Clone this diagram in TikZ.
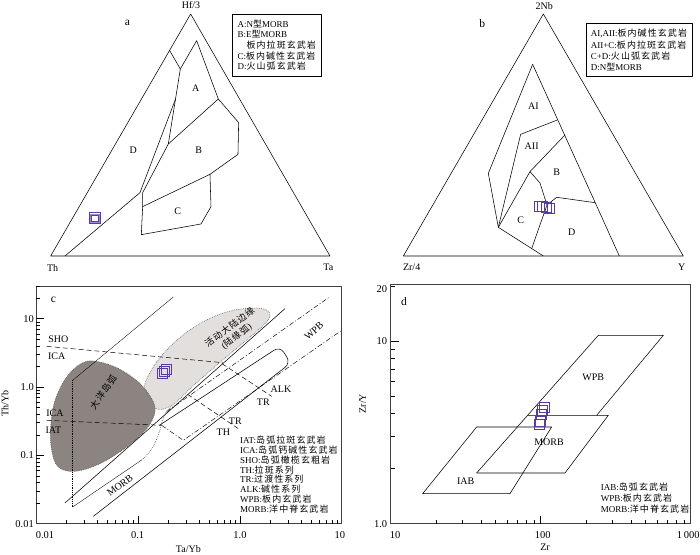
\documentclass[tikz,border=0pt]{standalone}
\usepackage{fontspec}
\setmainfont{Liberation Serif}
\newfontfamily\cjk[LetterSpace=12]{Noto Sans CJK SC}
\newcommand{\hz}[1]{{\cjk #1}}
\definecolor{smp}{RGB}{88,60,160}
\definecolor{arcdark}{RGB}{140,132,128}
\definecolor{arclight}{RGB}{227,223,221}
\tikzset{
  fld/.style={line width=0.55pt, line join=round},
  thinln/.style={line width=0.35pt},
  tickln/.style={line width=0.45pt},
  smpbox/.style={draw=smp, line width=0.8pt},
  paneltag/.style={font=\fontsize{11.5}{12}\selectfont, inner sep=0pt},
  lab/.style={font=\fontsize{10}{11}\selectfont, inner sep=0pt},
  ticklab/.style={font=\fontsize{10.5}{11}\selectfont, inner sep=0pt},
  keytxt/.style={font=\fontsize{9}{10.7}\selectfont, align=left, inner sep=0pt, anchor=north west},
  bdash/.style={dash pattern=on 5pt off 3pt, line width=0.5pt},
  bdashdot/.style={dash pattern=on 5pt off 2pt on 1pt off 2pt, line width=0.45pt},
  bdot/.style={dash pattern=on 0.6pt off 1.2pt, line width=0.6pt},
}
\begin{document}
\begin{tikzpicture}[x=1pt,y=-1pt]
\path[use as bounding box, fill=white] (0,0) rectangle (700,554);

% a: Hf/3-Th-Ta
\begin{scope}[x=0.3333pt,y=-0.3333pt]
\draw[fld] (152,768) -- (572,42) -- (990,768) -- cycle;
\draw[fld] (508,150) -- (541,207);
\draw[fld] (541,207) -- (590,122) -- (655,297) -- (505,432) -- cycle;
\draw[fld] (527,296) -- (420,578) -- (195,768);
\draw[fld] (505,432) -- (428,578) -- (428,620) -- (424,704) -- (603,672) -- (633,620)
  -- (630,523) -- (714,463) -- (716,368) -- (655,297);
\draw[fld] (428,620) -- (630,523);
\node[lab] (aHf) at (573,15) {Hf/3};
\node[lab] (aTh) at (158,803) {Th};
\node[lab] (aTa) at (985,803) {Ta};
\node[paneltag] (aTag) at (382,68) {a};
\node[lab] (aA) at (587,266) {A};
\node[lab] (aB) at (596,450) {B};
\node[lab] (aC) at (533,633) {C};
\node[lab] (aD) at (400,452) {D};
\draw[fld] (696,42) rectangle (963,230);
\node[keytxt] (aKey) at (712,58) {A:N\hz{型}MORB\\B:E\hz{型}MORB\\\hspace*{9pt}\hz{板内拉斑玄武岩}\\C:\hz{板内碱性玄武岩}\\D:\hz{火山弧玄武岩}};
\end{scope}

% b: 2Nb-Zr/4-Y
\begin{scope}[shift={(350,0)},x=0.3333pt,y=-0.3333pt]
\draw[fld] (160,768) -- (580,42) -- (1000,768) -- cycle;
\draw[fld] (548,193) -- (808,768);
\draw[fld] (548,193) -- (415,520) -- (445,682) -- (580,768);
\draw[fld] (445,682) -- (512,403) -- (622,360);
\draw[fld] (645,405) -- (540,515) -- (445,682);
\draw[fld] (540,515) -- (570,549) -- (591,615) -- (545,746);
\draw[fld] (591,615) -- (620,592) -- (735,608);
\node[lab] (bNb) at (583,17) {2Nb};
\node[lab] (bZr) at (185,803) {Zr/4};
\node[lab] (bY) at (995,803) {Y};
\node[paneltag] (bTag) at (397,70) {b};
\node[lab] (bAI) at (550,320) {AI};
\node[lab] (bAII) at (545,440) {AII};
\node[lab] (bB) at (620,518) {B};
\node[lab] (bC) at (512,662) {C};
\node[lab] (bD) at (665,698) {D};
\draw[fld] (708,70) rectangle (1027,230);
\node[keytxt, font=\fontsize{9}{11.3}\selectfont] (bKey) at (722,87) {AI,AII:\hz{板内碱性玄武岩}\\AII+C:\hz{板内拉斑玄武岩}\\C+D:\hz{火山弧玄武岩}\\D:N\hz{型}MORB};
\end{scope}

% c: Th/Yb - Ta/Yb
\begin{scope}[shift={(0,277)},x=0.3333pt,y=-0.3333pt]
\draw[bdot, fill=arclight, draw=black!70] plot[smooth cycle, tension=0.6] coordinates {
  (435,320) (470,255) (530,190) (600,140) (670,108) (740,94) (795,97) (810,115)
  (795,140) (760,172) (700,222) (630,282) (570,335) (525,378) (485,397) (455,388) (437,360)};
\draw[bdot, fill=arcdark, draw=black!70] plot[smooth cycle, tension=0.6] coordinates {
  (280,252) (350,272) (415,315) (455,365) (465,405) (440,455) (380,510) (300,560)
  (225,583) (175,570) (155,520) (152,450) (165,370) (200,300) (240,262)};
\draw[thinln] (520,60) -- (218,310);
\draw[bdot, line width=0.45pt] (218,310) -- (218,690);
\draw[thinln] (218,690) -- (425,549);
\draw[bdot, line width=0.45pt] (425,549) .. controls (460,520) and (475,480) .. (485,440)
  .. controls (495,405) and (505,392) .. (520,385);
\draw[fld] (195,678) -- (855,95);
\draw[fld, rounded corners=7pt] (280,718) -- (872,258) -- (840,208) -- (478,445);
\draw[bdashdot] (500,404) -- (990,59);
\draw[bdashdot] (485,445) -- (550,490) -- (1025,160);
\draw[bdash] (140,208) -- (668,257);
\draw[bdash] (140,430) -- (485,445);
\draw[bdash] (666,260) -- (815,358);
\draw[bdash] (563,352) -- (718,457);
\draw[line width=0.7pt, black!75] (108,28) rectangle (1025,740);
\begin{scope}
\clip (108,28) rectangle (1025,740);
\foreach \k in {0,1,2,3}
  \foreach \m in {2,...,9}
    \draw[tickln] (108,{740-205*(\k+log10(\m))}) -- ++(12,0);
\foreach \k in {0,1,2}
  \foreach \m in {2,...,9}
    \draw[tickln] ({108+305.7*(\k+log10(\m))},740) -- ++(0,-12);
\end{scope}
\foreach \k in {1,2,3}
  \draw[tickln] (108,{740-205*\k}) -- ++(24,0);
\foreach \k in {1,2}
  \draw[tickln] ({108+305.7*\k},740) -- ++(0,-24);
\node[ticklab, anchor=east] (cY10) at (102,125) {10};
\node[ticklab, anchor=east] (cY1) at (102,330) {1.0};
\node[ticklab, anchor=east] (cY01) at (102,535) {0.1};
\node[ticklab, anchor=east] (cY001) at (102,740) {0.01};
\node[ticklab] (cX001) at (135,775) {0.01};
\node[ticklab] (cX01) at (413,775) {0.1};
\node[ticklab] (cX1) at (720,775) {1.0};
\node[ticklab] (cX10) at (1020,775) {10};
\node[lab] (cXt) at (565,815) {Ta/Yb};
\node[lab, rotate=90] (cYt) at (15,380) {Th/Yb};
\node[paneltag] (cTag) at (160,70) {c};
\node[lab] (cSHO) at (175,188) {SHO};
\node[lab] (cICA) at (170,238) {ICA};
\node[lab] (cICAb) at (165,410) {ICA};
\node[lab] (cIAT) at (160,460) {IAT};
\node[lab] (cALK) at (843,337) {ALK};
\node[lab] (cTRa) at (790,376) {TR};
\node[lab] (cTRb) at (706,432) {TR};
\node[lab] (cTH) at (670,466) {TH};
\node[lab, rotate=37] (cMORB) at (360,625) {MORB};
\node[lab, rotate=42] (cWPB) at (942,162) {WPB};
\node[lab, rotate=55, font=\fontsize{9}{10}\selectfont] (cOIA) at (310,345) {\hz{大洋岛弧}};
\node[lab, rotate=37, align=center, font=\fontsize{9}{11}\selectfont] (cACM) at (700,165) {\hz{活动大陆边缘}\\(\hz{陆缘弧})};
\node[keytxt, font=\fontsize{9}{9.86}\selectfont] (cKey) at (720,476) {IAT:\hz{岛弧拉斑玄武岩}\\ICA:\hz{岛弧钙碱性玄武岩}\\SHO:\hz{岛弧橄榄玄粗岩}\\TH:\hz{拉斑系列}\\TR:\hz{过渡性系列}\\ALK:\hz{碱性系列}\\WPB:\hz{板内玄武岩}\\MORB:\hz{洋中脊玄武岩}};
\end{scope}

% d: Zr/Y - Zr
\begin{scope}[shift={(350,277)},x=0.3333pt,y=-0.3333pt]
\draw[fld] (380,588) -- (745,175) -- (940,175) -- (740,415);
\draw[fld] (533,415) -- (775,415) -- (645,588) -- (380,588);
\draw[fld] (218,650) -- (380,450) -- (605,450) -- (480,650) -- cycle;
\draw[line width=0.7pt, black!75] (122,22) rectangle (1022,740);
\foreach \m in {2,...,9}
  \draw[tickln] (122,{740-548*log10(\m)}) -- ++(12,0);
\draw[tickln] (122,{740-548*log10(20)}) -- ++(12,0);
\draw[tickln] (122,192) -- ++(24,0);
\foreach \k in {0,1}
  \foreach \m in {2,...,9}
    \draw[tickln] ({122+450*(\k+log10(\m))},740) -- ++(0,-12);
\draw[tickln] (572,740) -- ++(0,-24);
\node[ticklab, anchor=east] (dY20) at (112,35) {20};
\node[ticklab, anchor=east] (dY10) at (112,192) {10};
\node[ticklab, anchor=east] (dY1) at (112,742) {1.0};
\node[ticklab] (dX10) at (135,775) {10};
\node[ticklab] (dX100) at (578,775) {100};
\node[ticklab] (dX1000) at (1015,775) {1\,000};
\node[lab] (dXt) at (585,810) {Zr};
\node[lab, rotate=90] (dYt) at (38,380) {Zr/Y};
\node[paneltag] (dTag) at (162,73) {d};
\node[lab] (dWPB) at (730,300) {WPB};
\node[lab] (dMORB) at (597,497) {MORB};
\node[lab] (dIAB) at (347,612) {IAB};
\node[keytxt, font=\fontsize{9}{10.8}\selectfont] (dKey) at (752,618) {IAB:\hz{岛弧玄武岩}\\WPB:\hz{板内玄武岩}\\MORB:\hz{洋中脊玄武岩}};
\end{scope}

% samples
\foreach \x/\y in {95/218.3}{
  \draw[smpbox, line width=1.2pt] (\x-5.5,\y-5.5) rectangle (\x+5.5,\y+5.5);
  \draw[smpbox, draw=smp!60, line width=1pt] (\x-4.3,\y-4.3) rectangle (\x+4.3,\y+4.3);
  \draw[smpbox, line width=1.1pt] (\x-3.2,\y-3.2) rectangle (\x+3.2,\y+3.2);
}
\foreach \x/\y in {539.3/206,542.7/206.7,546/207.3,549.3/208.7}
  \draw[smpbox, line width=0.6pt] (\x-5,\y-5) rectangle (\x+5,\y+5);
\foreach \x/\y in {162/373,164/371,166/369}
  \draw[smpbox, line width=0.7pt] (\x-5,\y-5) rectangle (\x+5,\y+5);
\foreach \x/\y in {544/407.7,542/410.5,541.7/414,540/421,539/424}
  \draw[smpbox, line width=0.6pt] (\x-5,\y-5) rectangle (\x+5,\y+5);
\end{tikzpicture}
\end{document}
